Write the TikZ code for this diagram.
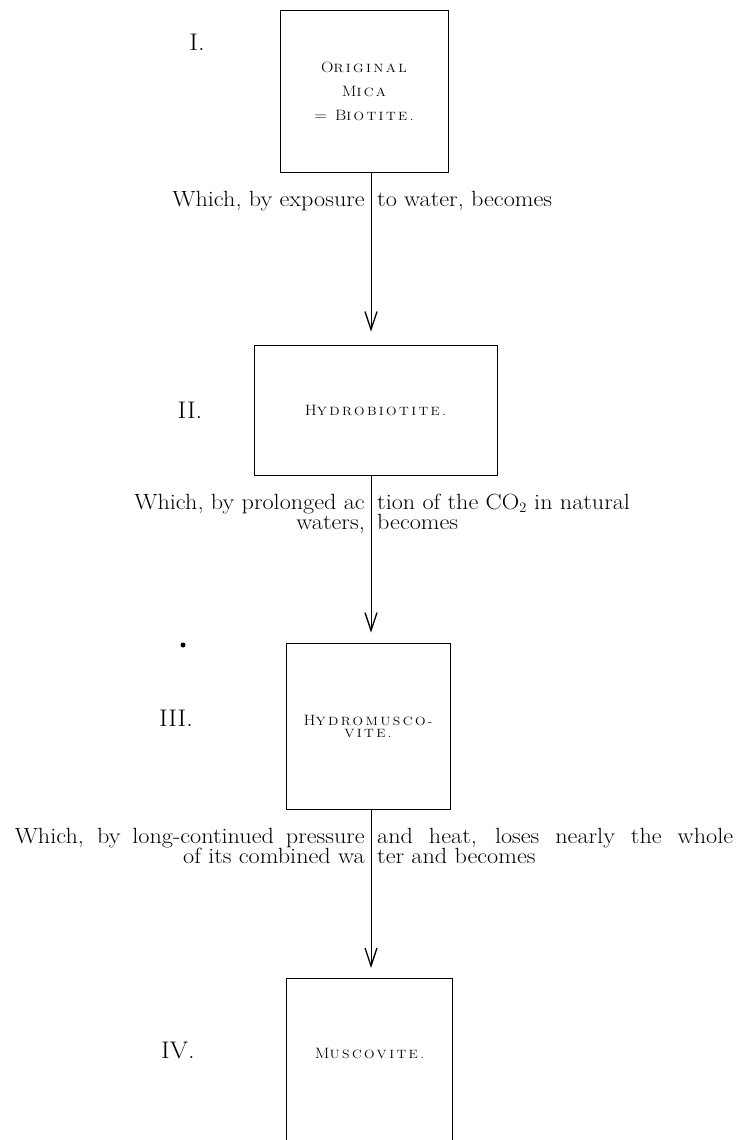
\documentclass[tikz,border=0pt]{standalone}
\usepackage{fontspec}
\setmainfont{Latin Modern Roman}[FakeStretch=1.1]
\usetikzlibrary{arrows.meta}
\newfontfamily\spacedfont[LetterSpace=20,FakeStretch=1.15]{Latin Modern Roman}
\newcommand\fsc[2]{{\fontsize{15}{15}\selectfont#1}{\fontsize{12}{12}\selectfont#2}}
\begin{document}
\begin{tikzpicture}[x=1pt,y=-1pt,
  boxline/.style={draw, line width=0.8pt},
  box/.style={boxline, inner sep=0pt, align=center, font=\spacedfont},
  numlabel/.style={font=\fontsize{24}{24}\selectfont},
  txt/.style={inner sep=0pt, font=\fontsize{22}{20}\selectfont},
  lefttxt/.style={txt, align=right, anchor=base east},
  righttxt/.style={txt, align=left, anchor=base west},
  flow/.style={line width=0.8pt, -{Straight Barb[length=18pt,width=12pt,line width=1.3pt]}}
]
\useasboundingbox (0,0) rectangle (745,1140);
\clip (0,0) rectangle (745,1140);
\coordinate (xa) at (371,0);
\coordinate (bot) at (0,1160);

% boxes
\node[box, minimum width=168pt, minimum height=162pt] (b1) at (364,91)
  {\fsc{O}{RIGINAL}\\[12pt]\fsc{M}{ICA}\\[12pt]\fsc{= B}{IOTITE.}};
\node[box, minimum width=243pt, minimum height=130pt] (b2) at (375.5,410)
  {\fsc{H}{YDROBIOTITE.}};
\node[box, minimum width=164pt, minimum height=166pt] (b3) at (368,726)
  {\fsc{H}{YDROMUSCO-}\\[0pt]\fsc{}{VITE.}};
\node[inner sep=0pt, minimum width=165pt, minimum height=150pt, anchor=north, font=\spacedfont] (b4) at (369.5,978)
  {\fsc{M}{USCOVITE.}};
\draw[boxline] (b4.north west |- bot) -- (b4.north west) -- (b4.north east) -- (b4.north east |- bot);

% numerals
\node[numlabel] (n1) at (197,42) {I.};
\node[numlabel] (n2) at (190,410) {II.};
\node[numlabel] (n3) at (176,718) {III.};
\node[numlabel] (n4) at (178,1050) {IV.};
\fill (183,645) circle (2.5pt);

% connectors
\draw[flow] (b1.south -| xa) -- ([yshift=13pt]b2.north -| xa);
\draw[flow] (b2.south -| xa) -- ([yshift=10pt]b3.north -| xa);
\draw[flow, line width=1pt] (b3.south -| xa) -- ([yshift=10pt]b4.north -| xa);

% texts
\node[lefttxt] (t1l) at ([xshift=-6pt]xa |- 0,206) {Which, by exposure};
\node[righttxt] (t1r) at ([xshift=6pt]xa |- 0,206) {to water, becomes};
\node[lefttxt, anchor=north east] (t2l) at ([xshift=-6pt]xa |- 0,494) {Which, by prolonged ac\\waters,};
\node[righttxt, anchor=north west] (t2r) at ([xshift=6pt]xa |- 0,494) {tion of the CO$_2$ in natural\\becomes};
\node[lefttxt, anchor=north east] (t3l) at ([xshift=-6pt]xa |- 0,828) {\makebox[350pt][s]{Which, by long-continued pressure}\\of its combined wa};
\node[righttxt, anchor=north west] (t3r) at ([xshift=6pt]xa |- 0,828) {\makebox[356pt][s]{and heat, loses nearly the whole}\\ter and becomes};
\end{tikzpicture}
\end{document}
